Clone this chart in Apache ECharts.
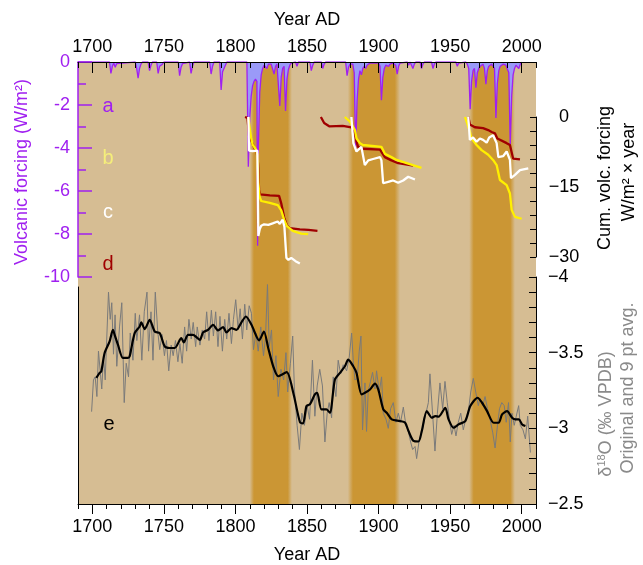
<!DOCTYPE html>
<html><head><meta charset="utf-8">
<script src="https://cdn.jsdelivr.net/npm/echarts@6/dist/echarts.min.js"></script>
<style>html,body{margin:0;padding:0;background:#fff}#c{width:643px;height:565px}</style>
</head><body><div id="c"></div>
<script>
// ---------- data ----------
const xMin = 1690, xMax = 2010;
const yearTicks = [1700, 1750, 1800, 1850, 1900, 1950, 2000];
const bandStart = [1810, 1878.5, 1963.3];
const bandEnd = [1839.5, 1915, 1995.3];
const bandLabels = ['1', '2', '3'];

// a: volcanic forcing (W/m2), [year, value]
const volcForcing = [
 [1690,0],[1712,0],[1713,-0.53],[1714,-0.2],[1715,-0.05],[1716,-0.25],[1717,-0.08],[1718,0],
 [1730,0],[1731,-0.3],[1732,-0.75],[1733,-0.3],[1734,-0.1],[1735,0],
 [1739,0],[1740,-0.4],[1741,-0.15],[1742,0],
 [1745,0],[1746,-0.53],[1747,-0.2],[1748,-0.25],[1749,-0.1],[1750,0],
 [1760,0],[1761,-0.64],[1762,-0.25],[1763,-0.08],[1764,0],
 [1768,0],[1769,-0.53],[1770,-0.2],[1771,0],
 [1782,0],[1783,-0.56],[1784,-0.2],[1785,0],
 [1789,0],[1790,-1.3],[1791,-0.45],[1792,-0.4],[1793,-0.15],[1794,0],
 [1808,0],[1809,-4.87],[1810,-2.6],[1811,-1.6],[1812,-1.1],[1813,-0.9],[1814,-0.8],[1815,-0.9],
 [1815.5,-8.55],[1816,-4.0],[1817,-1.4],[1818,-0.6],[1819,-0.3],[1820,-0.15],[1821,-0.1],
 [1822,-0.3],[1823,-0.1],[1824,-0.05],[1825,-0.1],[1826,-0.15],[1827,-0.56],[1828,-0.2],
 [1829,-0.1],[1830,-0.05],[1831,-2.05],[1832,-0.7],[1833,-0.3],[1834,-0.2],[1835,-2.28],
 [1836,-0.8],[1837,-0.35],[1838,-0.15],[1839,-0.05],[1840,0],
 [1842,0],[1843,-0.2],[1844,0],[1852,0],[1853,-0.4],[1854,-0.15],[1855,0],
 [1860,0],[1861,-0.3],[1862,-0.1],[1863,0],
 [1877,0],[1878,-0.64],[1879,-0.25],[1880,-0.1],[1881,-0.05],[1882,-0.1],[1883,-0.5],
 [1884,-4.1],[1885,-1.8],[1886,-0.8],[1887,-0.4],[1888,-0.6],[1889,-0.3],[1890,-0.2],
 [1891,-0.3],[1892,-0.15],[1893,-0.1],[1894,-0.05],[1895,-0.1],[1896,-0.05],[1897,-0.05],
 [1898,-0.05],[1899,-0.1],[1900,-0.05],[1901,-0.2],[1902,-1.78],[1903,-0.7],[1904,-0.3],
 [1905,-0.15],[1906,-0.1],[1907,-0.2],[1908,-0.1],[1909,-0.05],[1910,-0.05],[1911,-0.1],
 [1912,-0.15],[1913,-0.56],[1914,-0.2],[1915,-0.05],[1916,0],
 [1920,0],[1921,-0.15],[1922,0],[1923,0],[1924,-0.3],[1925,-0.1],[1926,0],
 [1929,0],[1930,-0.3],[1931,-0.1],[1932,0],[1937,0],[1938,-0.3],[1939,-0.1],[1940,0],
 [1954,0],[1955,-0.2],[1956,-0.05],[1957,0],
 [1961,0],[1962,-0.1],[1963,-0.3],[1964,-2.2],[1965,-0.9],[1966,-0.4],[1967,-0.3],
 [1968,-1.2],[1969,-0.5],[1970,-0.3],[1971,-0.2],[1972,-0.15],[1973,-0.1],[1974,-0.3],
 [1975,-1.03],[1976,-0.4],[1977,-0.2],[1978,-0.15],[1979,-0.1],[1980,-0.2],[1981,-0.3],
 [1982,-2.6],[1983,-1.0],[1984,-0.4],[1985,-0.2],[1986,-0.15],[1987,-0.1],[1988,-0.1],
 [1989,-0.15],[1990,-0.2],[1991,-0.5],[1992,-3.9],[1993,-1.6],[1994,-0.6],[1995,-0.3],
 [1996,-0.15],[1997,-0.1],[1998,-0.3],[1999,-0.1],[2000,0]
];

// cumulative volcanic forcing (W/m2 x year); b = yellow, c = white, d = dark red
const cumB1 = [[1809,0],[1809.8,-2],[1811,-4.5],[1812,-5.9],[1814,-6.8],[1815.3,-8],[1816,-14],[1816.8,-17],[1818,-18],[1824,-18.4],[1829.6,-18.9],[1832,-20],[1834,-22],[1836,-23.4],[1840,-24.4],[1846,-25],[1850.8,-25.1]];
const cumC1 = [[1809,0],[1809.5,-7.2],[1812,-7.3],[1815.3,-7.2],[1816,-25.5],[1817,-24],[1818,-23.3],[1820,-23],[1823,-23.1],[1826,-22.8],[1829.5,-22.4],[1831,-22.9],[1833,-22],[1834.2,-23.5],[1835.6,-30.2],[1837,-30.6],[1839,-30.2],[1842,-30.9],[1845,-31.4]];
const cumD1 = [[1806.7,0],[1808.4,-0.2],[1809.5,-4],[1811,-5],[1813,-6.5],[1815,-7.8],[1815.8,-10],[1816.5,-15.6],[1817.3,-16.6],[1824,-16.8],[1830.5,-16.9],[1832,-18.5],[1834,-21.5],[1836,-23.3],[1838,-23.8],[1845,-24.1],[1851,-24.2],[1857.3,-24.4]];
const cumB2 = [[1876.4,0],[1880,-1],[1883.5,-2.8],[1884.6,-4.6],[1887,-5.6],[1889,-6],[1902,-6.4],[1904.4,-7.9],[1909,-8.6],[1912.6,-9.2],[1924,-10.3],[1930,-10.9]];
const cumC2 = [[1881,0],[1882.4,-5.6],[1884.6,-7.4],[1888,-6.4],[1890.4,-10.3],[1892.8,-9.3],[1896.2,-9],[1901,-8.6],[1902,-9.3],[1903.2,-14.2],[1906.7,-13.9],[1910.2,-13.6],[1913.7,-14.1],[1917.2,-13.6],[1920.7,-12.8],[1925.4,-13.4]];
const cumD2 = [[1859.7,0],[1862,-1.3],[1865.5,-2],[1875,-1.9],[1881,-2.2],[1883.5,-3.5],[1884.6,-5.3],[1885.7,-6.4],[1889,-6.8],[1901,-7],[1904.4,-8.6],[1909,-9.3],[1913.7,-9.9],[1924.2,-10.4]];
const cumB3 = [[1960.4,0],[1961.5,-0.1],[1963.8,-3.1],[1965,-4.6],[1968.5,-6],[1972,-7.1],[1976.6,-8.1],[1980,-9.2],[1982.5,-10.3],[1984.8,-13.5],[1989.5,-14.6],[1991.8,-16.4],[1993,-19.9],[1995.3,-21.4],[2000,-21.8]];
const cumC3 = [[1962.7,0],[1963.8,-4.9],[1966,-4.4],[1968.5,-5.3],[1970.8,-4.6],[1973,-4.9],[1975.5,-5.5],[1977.3,-4.4],[1980,-3.9],[1982.5,-5.6],[1983.7,-8.6],[1987,-8.4],[1989.5,-7.4],[1991.8,-9.2],[1992.5,-13.1],[1995.3,-12.4],[1998.8,-11.4],[2004.6,-11]];
const cumD3 = [[1962.8,0],[1963.8,-1.6],[1967.3,-2.2],[1973,-2.4],[1976.6,-2.8],[1979,-3.2],[1981.3,-3.5],[1983,-4.6],[1989.5,-5.6],[1991.8,-6],[1994,-8.9],[1998.8,-9.1]];

// e: d18O (permil VPDB), original and 9 pt average
const d18Raw = [
 [1699.5,-3.11],[1700.8,-3.32],[1702,-3.34],[1703.2,-3.21],[1704.3,-3.51],[1705.5,-3.38],[1706.6,-3.26],[1707.8,-3.48],
 [1709,-3.32],[1711.3,-3.90],[1712.5,-3.72],[1713.6,-3.83],[1714.8,-3.49],[1715.9,-3.75],[1717.1,-3.41],
 [1719,-3.67],[1720.6,-3.83],[1722.3,-3.17],[1723.7,-3.43],[1725.3,-3.34],[1726.5,-3.63],[1728.4,-3.45],
 [1730,-3.76],[1731.1,-3.58],[1733,-3.75],[1734.6,-3.45],[1736.3,-3.77],[1738.2,-3.90],[1739.3,-3.51],
 [1741,-3.77],[1742.4,-3.45],[1744,-3.90],[1745.7,-3.64],[1747.1,-3.52],[1748.7,-3.62],[1750.4,-3.48],
 [1751.8,-3.58],[1753.4,-3.38],[1755.1,-3.55],[1756.5,-3.48],[1758.1,-3.58],[1759.8,-3.44],[1761.2,-3.56],
 [1762.8,-3.43],[1764.5,-3.67],[1765.9,-3.51],[1767.5,-3.72],[1769.1,-3.59],[1770.5,-3.70],[1772.2,-3.54],
 [1773.3,-3.67],[1775.2,-3.55],[1776.8,-3.65],[1778.5,-3.59],[1779.9,-3.77],[1781.5,-3.58],[1783.2,-3.78],
 [1784.6,-3.61],[1786.2,-3.77],[1787.8,-3.54],[1789.2,-3.74],[1790.9,-3.51],[1792.5,-3.72],[1793.9,-3.59],
 [1795.5,-3.76],[1797.2,-3.56],[1798.6,-3.72],[1800.2,-3.85],[1801.9,-3.65],[1803.3,-3.79],[1804.9,-3.59],
 [1806.5,-3.82],[1807.9,-3.65],[1809.6,-3.81],[1811.2,-3.76],[1812.6,-3.52],[1814.3,-3.63],[1815.9,-3.51],
 [1817.7,-3.67],[1819.6,-3.48],[1821,-3.60],[1822.4,-3.95],[1823.6,-3.54],[1825.2,-3.65],[1826.6,-3.32],
 [1828.3,-3.48],[1829.9,-3.21],[1831.8,-3.39],[1833.7,-3.32],[1835.3,-3.50],[1836.5,-3.24],[1838.4,-3.43],
 [1840,-3.61],[1841.2,-3.26],[1843.1,-3.02],[1844.7,-2.86],[1846.4,-3.10],[1848.2,-3.02],[1850.1,-3.15],
 [1851.8,-3.06],[1853.8,-3.45],[1855.5,-3.08],[1857.1,-3.28],[1858.9,-3.39],[1860.8,-3.28],[1862.5,-2.91],
 [1864.1,-3.10],[1865.5,-3.17],[1867.2,-3.07],[1868.3,-3.34],[1870.2,-3.21],[1871.8,-3.45],[1873.5,-3.36],
 [1875.3,-3.42],[1877.7,-3.38],[1879.5,-3.47],[1881.2,-3.63],[1882.3,-3.45],[1883.5,-3.32],[1885.1,-3.33],
 [1886.5,-3.51],[1887.7,-3.61],[1888.8,-2.99],[1890.5,-3.30],[1891.6,-2.98],[1892.8,-3.25],[1894.4,-3.31],
 [1895.8,-3.37],[1897.5,-3.26],[1898.6,-3.38],[1900.5,-3.24],[1902.1,-3.34],[1903.3,-3.10],[1905.2,-3.06],
 [1906.8,-3.00],[1908.4,-3.13],[1910.3,-3.17],[1912.1,-3.04],[1913.8,-3.10],[1915.4,-3.04],[1917.3,-3.14],
 [1919.1,-3.02],[1920.8,-2.98],[1922.4,-2.91],[1923.8,-2.86],[1925.5,-2.88],[1926.6,-2.80],[1928.5,-2.93],
 [1930.1,-2.97],[1931.7,-3.04],[1933.1,-3.10],[1934.8,-3.17],[1935.9,-3.36],[1937.8,-3.09],[1939.4,-2.85],
 [1941.1,-3.10],[1942.9,-3.30],[1944.8,-3.13],[1946.4,-3.31],[1948,-3.17],[1949.9,-3.03],[1951.1,-2.96],
 [1952.7,-3.02],[1954.1,-2.95],[1955.7,-3.04],[1957.4,-3.10],[1959.2,-2.99],[1960.9,-3.06],[1962.7,-3.11],
 [1964.4,-3.24],[1966.2,-3.33],[1967.9,-3.24],[1969.7,-3.15],[1970.9,-3.20],[1972.8,-3.15],[1974.4,-3.21],
 [1976.1,-3.13],[1977.9,-3.06],[1979.8,-2.97],[1981.4,-2.87],[1983.1,-3.02],[1984.5,-3.13],[1986.1,-3.17],
 [1987.8,-3.15],[1989.2,-3.04],[1990.8,-3.17],[1992,-2.91],[1993.2,-3.10],[1994.8,-3.02],[1996.2,-3.08],
 [1997.9,-3.15],[1999,-3.02],[2000.9,-2.99],[2002.6,-2.93],[2004.2,-3.08],[2006.1,-2.84]
];
const d18Avg = [
 [1702.8,-3.333],[1705.1,-3.366],[1706.3,-3.377],[1708.6,-3.498],[1712.1,-3.575],[1714.4,-3.651],[1715.6,-3.618],
 [1717.9,-3.553],[1721.4,-3.465],[1724.9,-3.465],[1726.1,-3.476],[1729.6,-3.629],[1733.1,-3.673],[1734.2,-3.70],
 [1736.6,-3.656],[1740.1,-3.717],[1743.6,-3.64],[1747.1,-3.629],[1750.6,-3.541],[1754.1,-3.531],[1757.6,-3.531],
 [1762.2,-3.596],[1763.9,-3.568],[1766.9,-3.618],[1770.4,-3.618],[1775.1,-3.585],[1777.4,-3.634],[1780.9,-3.651],
 [1784.4,-3.684],[1787.9,-3.647],[1791.4,-3.669],[1793.7,-3.634],[1797.2,-3.662],[1800.7,-3.651],[1804.2,-3.70],
 [1807.3,-3.739],[1811.2,-3.684],[1816.6,-3.581],[1819.9,-3.64],[1822.9,-3.531],[1826.4,-3.41],[1829.9,-3.344],
 [1835.8,-3.371],[1840.4,-3.235],[1845.1,-3.04],[1847.3,-3.033],[1849.6,-3.147],[1852,-3.158],[1855.5,-3.224],
 [1857.1,-3.235],[1860.1,-3.125],[1863.6,-3.125],[1866,-3.103],[1869.5,-3.322],[1873,-3.366],[1876.5,-3.41],
 [1878.8,-3.454],[1882.3,-3.41],[1884.6,-3.366],[1888.1,-3.224],[1890.5,-3.235],[1894,-3.257],[1897.5,-3.296],
 [1899.8,-3.257],[1903.3,-3.125],[1905.7,-3.103],[1909.2,-3.059],[1915,-3.048],[1918.6,-3.037],[1920.9,-2.982],
 [1924.4,-2.917],[1927.9,-2.913],[1930.2,-2.982],[1933.7,-3.114],[1937.2,-3.07],[1939.6,-3.081],[1941.9,-3.077],
 [1946.6,-3.136],[1948.9,-3.059],[1952.4,-3.004],[1955.9,-3.026],[1960.6,-3.048],[1964.1,-3.147],[1969.2,-3.202],
 [1972.3,-3.169],[1975.8,-3.114],[1980.4,-3.037],[1983.9,-3.037],[1986.3,-3.092],[1989.8,-3.114],[1993.3,-3.07],
 [1995.6,-3.059],[1998,-3.059],[2000.3,-3.026],[2002.6,-3.015]
];

// ---------- style ----------
const FONT = 'Liberation Sans, Arial, Helvetica, sans-serif';
const TAN = '#D6BD93', BAND = '#CB9634', PURPLE = '#A020F0', LAV = '#9A9AF8';
const YEL = '#FFF000', RED = '#A00000', WHITE = '#FFFFFF', GRAY = '#8A8A8A';
const minus = v => String(v).replace('-', '\u2212');

const chart = echarts.init(document.getElementById('c'), null, {renderer: 'canvas'});

function hiddenX(grid) { return {gridIndex: grid, type: 'value', min: xMin, max: xMax, show: false}; }
function cumLine(data, color) {
  return {type: 'line', xAxisIndex: 3, yAxisIndex: 2, data: data, symbol: 'none', clip: false,
          lineStyle: {color: color, width: 2.3}, z: 4, silent: true};
}

const option = {
  animation: false,
  textStyle: {fontFamily: FONT},
  grid: [
    {left: 78, top: 62, width: 458, height: 443, show: true, backgroundColor: TAN, borderWidth: 0},
    {left: 78, top: 62, width: 458, height: 215},
    {left: 78, top: 117, width: 458, height: 140},
    {left: 78, top: 277, width: 458, height: 228},
    {left: 78, top: 287, width: 458, height: 218}
  ],
  xAxis: [
    hiddenX(0),
    {gridIndex: 1, type: 'value', position: 'top', min: xMin, max: xMax, interval: 10, z: 10,
     axisLine: {show: true, lineStyle: {color: '#000', width: 1}},
     axisTick: {show: true, inside: true, length: 6, lineStyle: {color: '#000'}},
     axisLabel: {show: true, fontSize: 18, color: '#000', margin: 6, fontFamily: FONT,
                 formatter: v => (v % 50 === 0 && v >= 1700 && v <= 2000) ? String(v) : ''},
     splitLine: {show: false},
     name: 'Year AD', nameLocation: 'middle', nameGap: 33,
     nameTextStyle: {fontSize: 18, color: '#000', fontFamily: FONT}},
    {gridIndex: 1, type: 'value', position: 'top', min: xMin, max: xMax, z: 10,
     axisLine: {show: false}, axisLabel: {show: false}, splitLine: {show: false},
     axisTick: {show: true, inside: true, length: 11, customValues: yearTicks, lineStyle: {color: '#000'}}},
    hiddenX(2),
    {gridIndex: 3, type: 'value', position: 'bottom', min: xMin, max: xMax, interval: 10, z: 10,
     axisLine: {show: true, lineStyle: {color: '#000', width: 1}},
     axisTick: {show: true, inside: false, length: 5, lineStyle: {color: '#000'}},
     axisLabel: {show: true, fontSize: 18, color: '#000', margin: 14, fontFamily: FONT,
                 formatter: v => (v % 50 === 0 && v >= 1700 && v <= 2000) ? String(v) : ''},
     splitLine: {show: false},
     name: 'Year AD', nameLocation: 'middle', nameGap: 42,
     nameTextStyle: {fontSize: 18, color: '#000', fontFamily: FONT}},
    {gridIndex: 3, type: 'value', position: 'bottom', min: xMin, max: xMax, z: 10,
     axisLine: {show: false}, axisLabel: {show: false}, splitLine: {show: false},
     axisTick: {show: true, inside: false, length: 10, customValues: yearTicks, lineStyle: {color: '#000'}}},
    hiddenX(4)
  ],
  yAxis: [
    {gridIndex: 0, type: 'value', min: 0, max: 1, show: false},
    {gridIndex: 1, type: 'value', position: 'left', min: -10, max: 0, interval: 2, z: 10,
     axisLine: {show: true, lineStyle: {color: PURPLE, width: 1.5}},
     axisTick: {show: true, inside: true, length: 14, lineStyle: {color: PURPLE, width: 1.5}},
     minorTick: {show: true, splitNumber: 2, length: 8, lineStyle: {color: PURPLE, width: 1.5}},
     axisLabel: {fontSize: 18, color: PURPLE, margin: 8, fontFamily: FONT},
     splitLine: {show: false}, minorSplitLine: {show: false}},
    {gridIndex: 2, type: 'value', position: 'right', min: -30, max: 0, interval: 15, z: 10,
     axisLine: {show: true, lineStyle: {color: '#000', width: 1}},
     axisTick: {show: true, inside: true, length: 6, lineStyle: {color: '#000'}},
     minorTick: {show: true, splitNumber: 5, length: 6, lineStyle: {color: '#000'}},
     axisLabel: {fontSize: 18, color: '#000', margin: 28, align: 'center', fontFamily: FONT, formatter: minus},
     splitLine: {show: false}, minorSplitLine: {show: false}},
    {gridIndex: 3, type: 'value', position: 'right', min: -4, max: -2.5, interval: 0.5, inverse: true, z: 10,
     axisLine: {show: true, lineStyle: {color: '#000', width: 1}},
     axisTick: {show: true, inside: true, length: 7, lineStyle: {color: '#000'}},
     minorTick: {show: true, splitNumber: 5, length: 7, lineStyle: {color: '#000'}},
     axisLabel: {fontSize: 18, color: '#000', margin: 12, align: 'left', fontFamily: FONT, formatter: minus},
     splitLine: {show: false}, minorSplitLine: {show: false}},
    {gridIndex: 4, type: 'value', position: 'left', min: 0, max: 1, z: 10,
     axisLine: {show: true, lineStyle: {color: '#000', width: 1}},
     axisTick: {show: false}, axisLabel: {show: false}, splitLine: {show: false}}
  ],
  series: [
    {type: 'custom', xAxisIndex: 0, yAxisIndex: 0, silent: true, z: 0,
     data: bandStart.map((s, i) => [s, bandEnd[i]]),
     renderItem: function (params, api) {
       const x0 = api.coord([api.value(0), 0])[0];
       const x1 = api.coord([api.value(1), 0])[0];
       const cs = params.coordSys;
       return {type: 'rect', shape: {x: x0, y: cs.y, width: x1 - x0, height: cs.height},
               style: {fill: new echarts.graphic.LinearGradient(0, 0, 1, 0, [
                 {offset: 0, color: TAN}, {offset: 0.1, color: BAND},
                 {offset: 0.9, color: BAND}, {offset: 1, color: TAN}])}};
     }},
    {type: 'line', xAxisIndex: 1, yAxisIndex: 1, data: volcForcing, symbol: 'none', silent: true, z: 3,
     lineStyle: {color: PURPLE, width: 1.3}, areaStyle: {color: LAV, opacity: 1}},
    cumLine(cumD1, RED), cumLine(cumB1, YEL), cumLine(cumC1, WHITE),
    cumLine(cumD2, RED), cumLine(cumB2, YEL), cumLine(cumC2, WHITE),
    cumLine(cumD3, RED), cumLine(cumB3, YEL), cumLine(cumC3, WHITE),
    {type: 'line', xAxisIndex: 4, yAxisIndex: 3, data: d18Raw, symbol: 'none', silent: true, z: 3,
     lineStyle: {color: '#7A7A7A', width: 1}},
    {type: 'line', xAxisIndex: 4, yAxisIndex: 3, data: d18Avg, symbol: 'none', silent: true, z: 4, smooth: 0.25,
     lineStyle: {color: '#000', width: 2.2}}
  ],
  graphic: [
    {type: 'text', x: 22, y: 172, rotation: Math.PI / 2, silent: true,
     style: {text: 'Volcanic forcing (W/m\u00B2)', fill: PURPLE, font: '18px ' + FONT, align: 'center', verticalAlign: 'middle'}},
    {type: 'text', x: 605, y: 178, rotation: Math.PI / 2, silent: true,
     style: {text: 'Cum. volc. forcing', fill: '#000', font: '18px ' + FONT, align: 'center', verticalAlign: 'middle'}},
    {type: 'text', x: 629, y: 172, rotation: Math.PI / 2, silent: true,
     style: {text: 'W/m\u00B2 \u00D7 year', fill: '#000', font: '18px ' + FONT, align: 'center', verticalAlign: 'middle'}},
    {type: 'text', x: 606, y: 414, rotation: Math.PI / 2, silent: true,
     style: {text: '{a|\u03B4}{s|18}{a|O (\u2030 VPDB)}', align: 'center', verticalAlign: 'middle',
             rich: {a: {fontSize: 18, fill: GRAY, fontFamily: FONT, lineHeight: 20},
                    s: {fontSize: 11, fill: GRAY, fontFamily: FONT, verticalAlign: 'top', lineHeight: 20}}}},
    {type: 'text', x: 628, y: 388, rotation: Math.PI / 2, silent: true,
     style: {text: 'Original and 9 pt avg.', fill: GRAY, font: '18px ' + FONT, align: 'center', verticalAlign: 'middle'}},
    {type: 'text', x: 108, y: 106, silent: true, style: {text: 'a', fill: PURPLE, font: '20px ' + FONT, align: 'center', verticalAlign: 'middle'}},
    {type: 'text', x: 108, y: 158, silent: true, style: {text: 'b', fill: '#F5EE7A', font: '20px ' + FONT, align: 'center', verticalAlign: 'middle'}},
    {type: 'text', x: 108, y: 212, silent: true, style: {text: 'c', fill: '#FFFFFF', font: '20px ' + FONT, align: 'center', verticalAlign: 'middle'}},
    {type: 'text', x: 108, y: 264, silent: true, style: {text: 'd', fill: RED, font: '20px ' + FONT, align: 'center', verticalAlign: 'middle'}},
    {type: 'text', x: 109, y: 424, silent: true, style: {text: 'e', fill: '#000', font: '20px ' + FONT, align: 'center', verticalAlign: 'middle'}},
    {type: 'text', x: 270, y: 265, silent: true, style: {text: bandLabels[0], fill: '#000', font: '18px ' + FONT, align: 'center', verticalAlign: 'middle'}},
    {type: 'text', x: 372, y: 265, silent: true, style: {text: bandLabels[1], fill: '#000', font: '18px ' + FONT, align: 'center', verticalAlign: 'middle'}},
    {type: 'text', x: 491, y: 265, silent: true, style: {text: bandLabels[2], fill: '#000', font: '18px ' + FONT, align: 'center', verticalAlign: 'middle'}}
  ]
};
chart.setOption(option);
</script>
</body></html>
